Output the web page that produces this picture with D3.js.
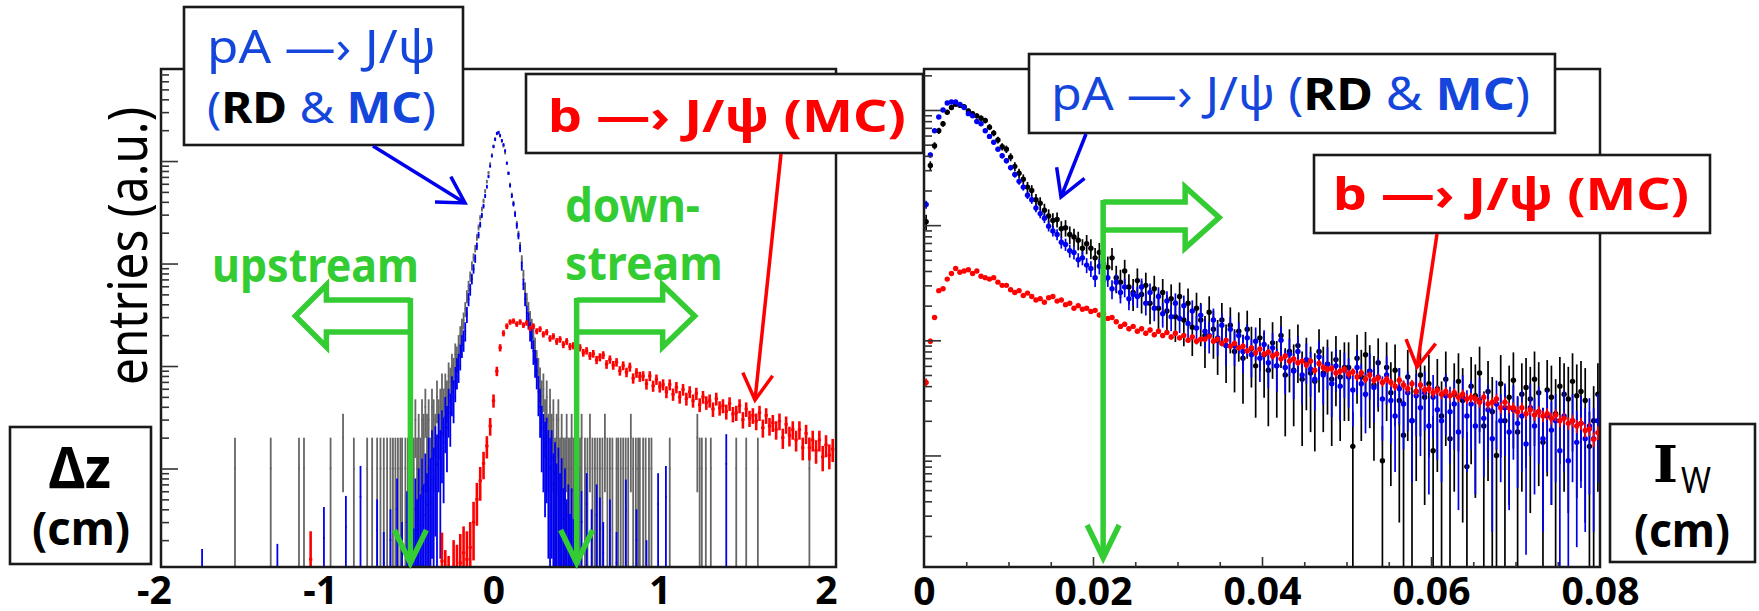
<!DOCTYPE html>
<html>
<head>
<meta charset="utf-8">
<script src="https://cdn.jsdelivr.net/npm/d3@7"></script>
<style>
  body { margin: 0; background: #fff; }
  svg { display: block; font-family: 'Noto Sans', 'DejaVu Sans', sans-serif; }
</style>
</head>
<body>
<svg id="chart"></svg>
<script>
// ---------- left panel: Δz (cm), log y ----------
// core bins, width 0.01, centres -0.50 .. 0.49
const dzCore = d3.range(100).map(i => +(-0.50 + 0.01 * i).toFixed(2));
const grayCore = [
  1, 2, 1, 3, 1, 2, 1, 3, 2, 4,
  2, 3, 1, 4, 3, 2, 5, 3, 4, 6,
  4, 6, 5, 8, 7, 10, 9, 13, 12, 16,
  20, 24, 28, 36, 48, 60, 75, 95, 115, 140,
  180, 225, 280, 340, 410, 510, 630, 770, 940, 1150,
  1400, 1650, 1850, 1880, 1750, 1560, 1400, 1200, 950, 760,
  590, 470, 390, 310, 245, 195, 150, 110, 78, 58,
  45, 36, 29, 24, 19, 15, 11, 9, 7, 5,
  6, 3, 5, 2, 4, 2, 3, 1, 2, 3,
  1, 2, 1, 1, 2, 1, 1, 2, 1, 1
];
const blueCore = [
  0.18, 0.28, 0.13, 0.4, 0.25, 0.5, 0.28, 0.63, 0.35, 0.7,
  0.45, 1.0, 0.63, 1.25, 0.8, 1.4, 1.1, 2.0, 1.25, 2.2,
  1.8, 3.2, 2.5, 4.0, 3.5, 5.6, 5.0, 7.1, 8.9, 10,
  12.6, 16, 18, 22, 32, 45, 56, 71, 89, 112,
  148, 190, 240, 295, 363, 457, 562, 708, 891, 1120,
  1380, 1620, 1860, 1905, 1780, 1585, 1445, 1260, 955, 760,
  575, 457, 380, 302, 234, 186, 141, 95, 63, 45,
  33, 28, 22, 19, 14, 11, 8.9, 5.6, 4.0, 2.5,
  2.0, 1.6, 1.8, 1.25, 1.0, 1.25, 0.7, 0.9, 0.56, 0.8,
  0.45, 0.63, 0.32, 0.5, 0.25, 0.35, 0.18, 0.32, 0.16, 0.25
];
// b -> J/psi MC, bins width 0.02, centres -0.20 .. 2.04
const dzRed = d3.range(113).map(i => +(-0.20 + 0.02 * i).toFixed(2));
const redDz = [
  0.12, 0.15, 0.13, 0.17, 0.30, 0.50, 0.76, 1.12, 1.66, 2.6,
  4.6, 8.9, 15.1, 20.9, 24.5, 26.9, 27.5, 25.7, 26.9, 25.1,
  26.3, 23.4, 24.5, 21.9, 22.9, 20.4, 21.4, 18.6, 19.5, 17.4,
  18.2, 16.2, 17.4, 15.5, 15.8, 14.1, 15.1, 13.5, 14.1, 12.6,
  13.2, 11.5, 12.2, 12.8, 10.4, 11.6, 10.2, 10.9, 9.0, 10.1,
  8.7, 9.8, 7.6, 8.6, 7.9, 8.0, 6.7, 8.0, 6.4, 7.4,
  6.3, 6.6, 5.6, 6.6, 5.3, 6.2, 5.0, 5.9, 4.8, 5.6,
  4.6, 5.4, 4.2, 5.0, 4.4, 4.6, 3.8, 4.8, 3.9, 4.1,
  3.6, 4.3, 3.4, 3.5, 4.1, 3.0, 3.8, 3.1, 3.3, 2.9,
  3.5, 2.5, 3.3, 2.6, 2.8, 2.4, 2.9, 2.0, 2.7, 2.1,
  2.4, 1.9, 2.4, 1.6, 2.2, 1.6, 1.9, 1.5, 1.9, 1.3,
  1.7, 1.35, 1.55
];
// isolated tail bins [dz, value]
const grayTail = [
  [-1.555, 1], [-1.34, 1], [-1.17, 1], [-1.14, 1], [-0.98, 1], [-0.905, 2], [-0.84, 1],
  [-0.76, 1], [-0.73, 1], [-0.70, 1], [-0.68, 1], [-0.66, 1], [-0.64, 1], [-0.62, 1],
  [-0.605, 1], [-0.59, 1], [-0.575, 1], [-0.56, 1], [-0.55, 1], [-0.53, 1], [-0.515, 1],
  [0.505, 1], [0.52, 1], [0.53, 2], [0.55, 1], [0.565, 1], [0.58, 2], [0.595, 1], [0.61, 1],
  [0.625, 1], [0.64, 1], [0.655, 1], [0.67, 2], [0.685, 1], [0.70, 1], [0.715, 1], [0.74, 1],
  [0.75, 1], [0.765, 1], [0.78, 1], [0.795, 1], [0.81, 1], [0.826, 2], [0.84, 1], [0.856, 1],
  [0.87, 1], [0.88, 1], [0.90, 1], [0.915, 1], [0.935, 1], [0.95, 1], [1.06, 1], [1.226, 2],
  [1.24, 1], [1.253, 1], [1.277, 1], [1.307, 1], [1.46, 1], [1.52, 1], [1.59, 1], [1.90, 1]
];
const blueTail = [
  [-1.753, 0.082], [-1.30, 0.092], [-1.02, 0.21], [-0.888, 0.27], [-0.80, 0.53], [-0.70, 0.25],
  [-0.66, 0.12], [-0.62, 0.2], [-0.58, 0.4], [-0.55, 0.15], [-0.52, 0.3],
  [0.51, 0.5], [0.53, 0.3], [0.56, 0.45], [0.59, 0.2], [0.62, 0.35], [0.64, 0.26], [0.66, 0.15],
  [0.70, 0.25], [0.74, 0.12], [0.796, 0.39], [0.86, 0.2], [0.92, 0.1], [0.99, 0.45],
  [1.037, 0.53], [1.40, 1.11]
];
const redTail = [[-1.10, 0.13], [-0.31, 0.125], [-0.29, 0.08], [-0.27, 0.07], [-0.24, 0.1], [-0.22, 0.09]];
const dzTicks = [-2, -1, 0, 1, 2];

// ---------- right panel: I_W (cm), log y ----------
const iw = d3.range(160).map(i => 0.00025 + 0.0005 * i);
const blackIw = [
  107, 330, 490, 660, 760, 955, 1050, 1120, 1100, 1070,
  980, 930, 890, 850, 810, 710, 630, 550, 480, 457,
  390, 324, 282, 251, 214, 200, 166, 155, 135, 120,
  110, 112, 93, 95, 83, 79, 74, 63, 69, 63,
  52, 58, 46, 43, 52, 35, 32, 40, 29, 26,
  33, 25, 30, 21, 28, 19, 26, 18, 23, 16,
  24, 15, 21, 13, 19, 15, 11, 17.5, 12.5, 10,
  15, 9, 13.5, 8, 12, 7, 12.5, 8.5, 6, 10.5,
  7.5, 5.5, 9.5, 6, 11, 5, 8, 5.5, 9, 4.6,
  6.5, 5.2, 4.4, 8, 5.2, 6.2, 4.6, 6.8, 4.8, 5.8,
  5.8, 1.2, 7, 4.8, 7.5, 5.4, 4.1, 6.4, 0.9, 5.8,
  3.5, 5.5, 3, 1.5, 4.8, 2, 3.6, 5, 3.2, 4.2,
  1.1, 3.8, 2.2, 4.6, 1.4, 3.4, 4.4, 3, 0.8, 4,
  3.3, 5.2, 1.8, 3.6, 2.4, 1.0, 4.2, 2.0, 3.2, 4.5,
  1.6, 3.4, 3.9, 3.1, 4.6, 3.5, 1.3, 3.7, 3.2, 2.3,
  4, 3.4, 3.1, 4.4, 3.3, 3.6, 3.0, 1.2, 2.0, 3.4
];
const blueIw = [
  151, 407, 660, 870, 1000, 1150, 1175, 1175, 1120, 1050,
  930, 890, 795, 760, 660, 590, 525, 457, 400, 363,
  316, 275, 240, 214, 182, 166, 141, 126, 115, 98,
  89, 83, 71, 68, 60, 58, 50, 52, 45, 42,
  35, 44, 33, 35, 28, 32, 26, 29, 23, 25,
  24, 29, 21, 26, 19, 24, 17, 22, 16, 21,
  15.5, 20, 14, 18, 12.8, 16.5, 12, 11, 15, 10.5,
  13.5, 9, 12.5, 9, 11, 8, 10.5, 7.5, 9.8, 7,
  9.2, 6.4, 8.6, 6, 10, 5.8, 7.6, 5.4, 8, 5,
  6.8, 5.6, 4.6, 7.2, 5, 6.2, 4.2, 6, 4, 5.5,
  4.8, 3.7, 5.8, 4.2, 3.4, 5.4, 3.9, 4.8, 3.1, 5,
  3, 2.2, 3.8, 2.8, 3.5, 2, 3.3, 2.6, 3.5, 1.8,
  3.2, 2.5, 2, 3.3, 2.4, 2.8, 1.6, 3.2, 2.2, 2.8,
  1.8, 3, 2.1, 2.5, 1.4, 2.8, 2, 2.6, 1.6, 2.5,
  1.9, 2.2, 1.26, 2.6, 1.8, 2.4, 1.4, 2.2, 1.66, 2,
  1.1, 2.2, 0.9, 2, 1.3, 1.9, 1.4, 1.8, 1.4, 2
];
const redIw = [
  4.3, 9.8, 15.8, 27, 28, 34, 38, 42, 39, 40,
  41, 38, 40, 36, 35, 34, 35, 32, 30, 30,
  27.5, 26, 27, 24.5, 25.7, 24, 22.4, 23, 21.4, 23.4,
  24, 21.9, 22.4, 20.4, 21, 19, 20, 18.6, 19, 17.8,
  18.2, 16.6, 17, 15.5, 15.8, 14.5, 13.2, 13.8, 12.6, 13.2,
  12, 12.6, 11.5, 12.3, 11.2, 12, 11, 11.7, 10.7, 11.5,
  10.5, 11, 10, 10.7, 9.8, 10.2, 10.2, 10.8, 9.8, 10.2,
  9.4, 10, 8.9, 9.4, 8.6, 8.9, 8.1, 8.6, 7.8, 8.4,
  7.6, 7.9, 7.3, 7.6, 6.9, 7.3, 6.6, 6.9, 6.4, 6.6,
  6.1, 6.6, 5.5, 6.3, 5.8, 5.6, 5.7, 5.2, 5.4, 5.6,
  5.1, 5.3, 4.8, 5.2, 4.6, 5, 4.5, 4.7, 4.3, 4.6,
  4.3, 4.0, 4.5, 4.1, 3.8, 4.2, 3.6, 4.1, 3.7, 3.8,
  3.5, 3.7, 3.4, 3.6, 3.3, 3.5, 3.2, 3.4, 3.1, 3.2,
  3.1, 2.9, 3.2, 2.8, 2.9, 3.1, 2.6, 2.9, 2.6, 2.6,
  2.4, 2.6, 2.3, 2.5, 2.25, 2.4, 2.2, 2.3, 2.1, 2.25,
  2, 2.1, 1.9, 2, 1.8, 1.9, 1.65, 1.7, 1.38, 1.58
];
const iwTicks = [0, 0.02, 0.04, 0.06, 0.08];
const iwLabels = ['0', '0.02', '0.04', '0.06', '0.08'];

// weight of one entry per series (error = sqrt(v * w), single entries go to zero)
const wGray = 1, wBlueL = 1, wRedL = 0.1, wBlack = 2.5, wBlueR = 1, wRedR = 0.03;

const C = { blue: '#0000f0', blueText: '#1446dc', red: '#ff0000', gray: '#666666', green: '#33cc33', ink: '#1a1a1a' };

const svg = d3.select('#chart').attr('width', 1759).attr('height', 611);

const xL = d3.scaleLinear().domain([-2, 2.06]).range([161, 836]);
const yL = d3.scaleLog().domain([0.1094, 7907]).range([567, 69]);
const xR = d3.scaleLinear().domain([0, 0.08]).range([924, 1600]);
const yR = d3.scaleLog().domain([0.1075, 2270]).range([567, 69]);

const defs = svg.append('defs');
defs.append('clipPath').attr('id', 'clipL').append('rect').attr('x', 162).attr('y', 70).attr('width', 673).attr('height', 496);
defs.append('clipPath').attr('id', 'clipR').append('rect').attr('x', 925).attr('y', 70).attr('width', 674).attr('height', 496);

function bars(g, x, y, rows, w, color, lw, bw, marker) {
  const yb = y.range()[0] + 3, yMin = y.domain()[0];
  const d = rows.filter(r => r[1] > 0).map(([c, v]) => {
    const e = Math.sqrt(v * Math.min(v, w));
    const yc = y(v);
    let y1 = v - e > yMin ? y(v - e) : yb;
    let y2 = y(v + e);
    y1 = Math.max(y1, yc + 1.5); y2 = Math.min(y2, yc - 1.5);
    return { xc: x(c), yc, y1, y2, xa: x(c - bw / 2), xb: x(c + bw / 2) };
  });
  g.append('g').selectAll('line').data(d).join('line')
    .attr('x1', r => r.xc).attr('x2', r => r.xc)
    .attr('y1', r => r.y1).attr('y2', r => r.y2)
    .attr('stroke', color).attr('stroke-width', lw);
  g.append('g').selectAll('line').data(d).join('line')
    .attr('x1', r => r.xa).attr('x2', r => r.xb)
    .attr('y1', r => r.yc).attr('y2', r => r.yc)
    .attr('stroke', color).attr('stroke-width', lw);
  if (marker) {
    g.append('g').selectAll('circle').data(d).join('circle')
      .attr('cx', r => r.xc).attr('cy', r => r.yc).attr('r', marker).attr('fill', color);
  }
}

// ---- left data ----
const gL = svg.append('g').attr('clip-path', 'url(#clipL)');
bars(gL, xL, yL, dzCore.map((c, i) => [c, grayCore[i]]).concat(grayTail), wGray, C.gray, 1.8, 0.01);
bars(gL, xL, yL, dzCore.map((c, i) => [c, blueCore[i]]).concat(blueTail), wBlueL, C.blue, 1.8, 0.01);
bars(gL, xL, yL, dzRed.map((c, i) => [c, redDz[i]]).concat(redTail), wRedL, C.red, 2.6, 0.02);

// ---- right data ----
const gR = svg.append('g').attr('clip-path', 'url(#clipR)');
bars(gR, xR, yR, iw.map((c, i) => [c, blackIw[i]]), wBlack, '#000', 1.7, 0.0005, 2.7);
bars(gR, xR, yR, iw.map((c, i) => [c, blueIw[i]]), wBlueR, C.blue, 1.7, 0.0005, 2.7);
bars(gR, xR, yR, iw.map((c, i) => [c, redIw[i]]), wRedR, C.red, 1.7, 0.0005, 2.7);

// ---- frames ----
[[161, 836], [924, 1600]].forEach(([a, b]) => {
  svg.append('rect').attr('x', a).attr('y', 69).attr('width', b - a).attr('height', 498)
    .attr('fill', 'none').attr('stroke', C.ink).attr('stroke-width', 2.5);
});

// ---- log y axes ----
function logTicks(y) {
  const [lo, hi] = y.domain(), t = [];
  for (let e = -2; e <= 4; e++) for (let k = 1; k <= 9; k++) {
    const v = k * Math.pow(10, e);
    if (v >= lo && v <= hi) t.push(v);
  }
  return t;
}
const isDecade = d => Math.abs(Math.log10(d) - Math.round(Math.log10(d))) < 1e-6;
[[161, yL], [924, yR]].forEach(([x0, y]) => {
  const g = svg.append('g').attr('transform', `translate(${x0},0)`)
    .call(d3.axisRight(y).tickValues(logTicks(y)).tickSize(8).tickFormat(''));
  g.select('.domain').remove();
  g.selectAll('.tick line').attr('stroke', '#333').attr('stroke-width', 1.6)
    .attr('x2', d => isDecade(d) ? 17 : 8);
});

// ---- x axes ----
const labelStyle = s => s.attr('font-family', "'Noto Sans', sans-serif").attr('font-size', 39)
  .attr('font-weight', 700).attr('fill', '#000').attr('dy', 0);

const axL = svg.append('g').attr('transform', 'translate(0,567)')
  .call(d3.axisBottom(xL).tickValues(dzTicks).tickSize(0).tickFormat(d => String(d)));
axL.select('.domain').remove();
axL.selectAll('.tick text').call(labelStyle).attr('y', 37).attr('dx', d => d < 0 ? -7 : 0);

const minorIw = d3.range(1, 16).map(i => i * 0.005);
const axRt = svg.append('g').attr('transform', 'translate(0,567)')
  .call(d3.axisTop(xR).tickValues(minorIw).tickSize(5).tickFormat(''));
axRt.select('.domain').remove();
axRt.selectAll('.tick line').attr('stroke', '#333').attr('stroke-width', 1.6)
  .attr('y2', d => Math.abs(d / 0.02 - Math.round(d / 0.02)) < 1e-6 ? -10 : -5);
const axR = svg.append('g').attr('transform', 'translate(0,567)')
  .call(d3.axisBottom(xR).tickValues(iwTicks).tickSize(0).tickFormat((d, i) => iwLabels[i]));
axR.select('.domain').remove();
axR.selectAll('.tick text').call(labelStyle).attr('y', 38);

// ---- green arrows ----
function greenArrow(xv, dir, ys0, ys1, yh0, yh1, len, tip, yEnd) {
  const yc = (yh0 + yh1) / 2;
  const pts = [[xv, ys0], [xv + dir * len, ys0], [xv + dir * len, yh0], [xv + dir * tip, yc],
    [xv + dir * len, yh1], [xv + dir * len, ys1], [xv, ys1]];
  const st = s => s.attr('fill', 'none').attr('stroke', C.green).attr('stroke-width', 5.5)
    .attr('stroke-linejoin', 'miter');
  svg.append('polyline').attr('points', pts.join(' ')).call(st);
  svg.append('line').attr('x1', xv).attr('x2', xv).attr('y1', ys0 - 2).attr('y2', yEnd).call(st);
  svg.append('polyline').attr('points', [[xv - 16, yEnd - 33], [xv, yEnd], [xv + 16, yEnd - 33]].join(' ')).call(st);
}
greenArrow(xL(-0.5), -1, 300, 332, 285, 347, 84, 115, 563);
greenArrow(xL(0.5), 1, 300, 332, 285, 347, 86, 118, 563);
greenArrow(xR(0.0212), 1, 202, 230, 187, 248, 82, 116, 558);

// ---- boxes ----
const boxes = [
  [184, 7, 279, 138], [526, 74, 397, 79], [1029, 54, 526, 79],
  [1314, 155, 396, 78], [10, 427, 141, 137], [1610, 424, 145, 138]
];
boxes.forEach(([x, y, w, h]) => svg.append('rect').attr('x', x).attr('y', y).attr('width', w).attr('height', h)
  .attr('fill', '#fff').attr('stroke', C.ink).attr('stroke-width', 2.6));

// ---- pointer arrows ----
function pointer(x1, y1, x2, y2, color) {
  const a = Math.atan2(y1 - y2, x1 - x2), L = 30, s = Math.PI / 6;
  const pts = [[x2 + L * Math.cos(a + s), y2 + L * Math.sin(a + s)], [x2, y2],
    [x2 + L * Math.cos(a - s), y2 + L * Math.sin(a - s)]];
  svg.append('line').attr('x1', x1).attr('y1', y1).attr('x2', x2).attr('y2', y2)
    .attr('stroke', color).attr('stroke-width', 3.5);
  svg.append('polyline').attr('points', pts.join(' ')).attr('fill', 'none')
    .attr('stroke', color).attr('stroke-width', 3.5);
}
pointer(373, 146, 465, 203, '#0000ee');
pointer(781, 154, 755, 400, C.red);
pointer(1086, 134, 1061, 197, '#0000ee');
pointer(1437, 234, 1417, 367, C.red);

// ---- texts ----
function note(x, y, parts, size, width, anchor = 'start', rotate = 0) {
  const g = svg.append('g');
  const t = g.append('text').attr('font-size', size);
  parts.forEach(p => {
    const ts = t.append('tspan').text(p[0]).attr('fill', p[1]).attr('font-weight', p[2] ? 700 : 400);
    if (p[3]) ts.attr('font-family', p[3]);
  });
  const len = t.node().getComputedTextLength();
  const sx = width ? width / len : 1;
  t.attr('x', anchor === 'middle' ? -len / 2 : 0);
  g.attr('transform', `translate(${x},${y}) rotate(${rotate}) scale(${sx},1)`);
}
const B = C.blueText;
note(207, 63, [['pA —› J/ψ', B]], 46, 229);
note(207, 123, [['(', B], ['RD', '#000', 1], [' & ', B], ['MC', B, 1], [')', B]], 43, 229);
note(548, 132, [['b —› J/ψ (MC)', C.red, 1]], 45, 358);
note(1051, 110, [['pA —› J/ψ (', B], ['RD', '#000', 1], [' & ', B], ['MC', B, 1], [')', B]], 45, 479);
note(1333, 210, [['b —› J/ψ (MC)', C.red, 1]], 45, 356);
note(212, 282, [['upstream', C.green, 1]], 46, 207);
note(565, 222, [['down-', C.green, 1]], 46, 135);
note(565, 280, [['stream', C.green, 1]], 46, 158);
note(147, 246, [['entries (a.u.)', '#000']], 54, 278, 'middle', -90);
note(80, 488, [['Δz', '#000', 1]], 58, 62, 'middle');
note(81, 545, [['(cm)', '#000', 1]], 46, 98, 'middle');
note(1653, 482, [['I', '#000', 1, "'DejaVu Serif', serif"]], 50, 25);
note(1681, 493, [['W', '#000', 0]], 36, 30);
note(1682, 547, [['(cm)', '#000', 1]], 46, 96, 'middle');
</script>
</body>
</html>
